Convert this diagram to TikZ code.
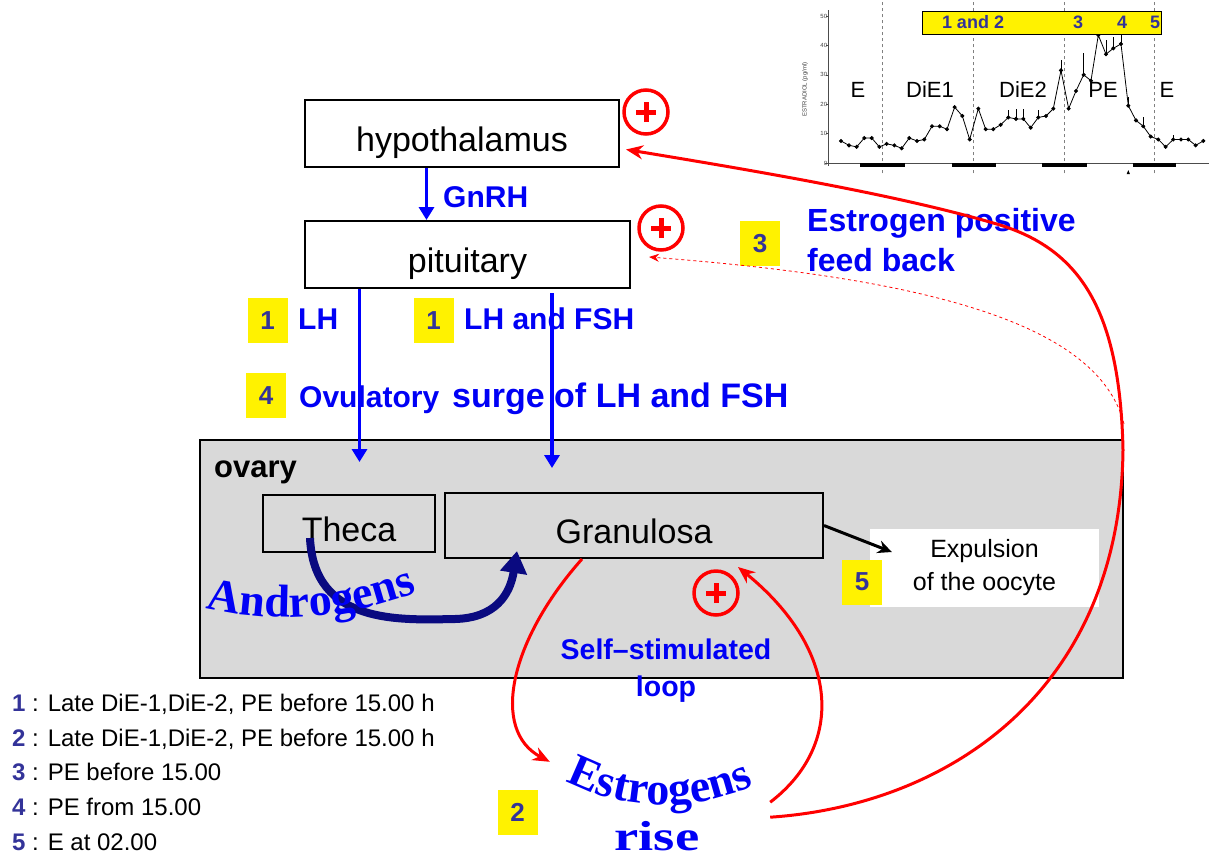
\documentclass[tikz,border=0pt]{standalone}
\usepackage{fontspec}
\setmainfont{Liberation Sans}
\newfontfamily\wordart{Liberation Serif}
\usetikzlibrary{arrows.meta, decorations.text}
\definecolor{hblue}{RGB}{0,0,245}
\definecolor{numblue}{RGB}{51,51,153}
\definecolor{navyarrow}{RGB}{10,10,128}
\definecolor{ovarygray}{RGB}{217,217,217}
\tikzstyle{organ}=[draw, line width=2pt, inner sep=0pt, text height=35pt, text depth=0pt, font=\fontsize{34}{40}\selectfont]
\tikzstyle{hormone}=[text=hblue, inner sep=0pt, font=\bfseries\fontsize{30}{40}\selectfont]
\tikzstyle{stepnum}=[fill=yellow, text=numblue, inner sep=0pt, minimum width=40pt, minimum height=45pt, font=\bfseries\fontsize{26}{26}\selectfont]
\tikzstyle{posmark}=[circle, draw=red, line width=3.5pt, minimum size=44pt, inner sep=0pt,
  path picture={\draw[red, line width=5pt] (path picture bounding box.center) +(-10pt,0) -- +(10pt,0) +(0,-10pt) -- +(0,10pt);}]
\tikzstyle{hormarrow}=[draw=blue, line width=3.5pt, -{Triangle[length=13pt, width=15pt]}]
\tikzstyle{feedback}=[draw=red, line width=3pt, -{Stealth[length=17pt, width=14pt]}]
\tikzstyle{plotlabel}=[font=\fontsize{22}{22}\selectfont]
\tikzstyle{barnum}=[text=numblue, font=\bfseries\fontsize{18}{18}\selectfont]
\newcommand{\organ}{\node[organ]}
\newcommand{\stepnum}{\node[stepnum]}
\newcommand{\legnum}[1]{{\color{numblue}\bfseries #1}}

\begin{document}
\begin{tikzpicture}[x=1pt, y=-1pt]
\useasboundingbox (0,0) rectangle (1209,857);

% estradiol curve
\begin{scope}[shift={(780,163)}, x=0.3333pt, y=2.94pt]
  \draw[gray!60!black, line width=0.6pt] (135,0) -- (1287,0);
  \draw[gray!60!black, line width=0.6pt] (145,-1) -- (145,52);
  \foreach \v in {0,10,...,50}
    \draw[gray!60!black, line width=0.5pt] (138,\v) -- (145,\v) node[left, inner sep=1pt, text=gray!50!black, font=\fontsize{6}{6}\selectfont] {\v};
  \node[rotate=90, text=gray!50!black, font=\fontsize{6}{6}\selectfont] (ylab) at (75,25) {ESTRADIOL (pg/ml)};
  \foreach \sx in {308,580,853,1122}
    \draw[gray, dashed, line width=0.5pt] (\sx,-3.5) -- (\sx,57);
  \foreach \a/\b in {240/375,515/648,787/920,1058/1188}
    \draw[line width=4pt] (\a,-0.8) -- (\b,-0.8);
  \fill (1040,-3.8) -- (1050,-3.8) -- (1045,-2.4) -- cycle;
  \foreach \ex/\lo/\hi in {685/15.5/18,708/15/18.5,730/15/18.5,775/15.5/18,843/31.5/35,911/30/37.5,978/37/42,1000/39/43,1023/40.5/43.5,1045/19.5/22.5,1090/12.5/15.5,1180/8/9.5}
    \draw[line width=0.5pt] (\ex,\lo) -- (\ex,\hi);
  \draw[line width=0.8pt, mark=*, mark size=1.6pt] plot coordinates {
    (183,7.5) (207,6) (230,5.5) (253,8.5) (275,8.5) (298,5.5) (320,6.5) (343,6) (365,5)
    (388,8.5) (411,7.5) (433,8) (456,12.5) (479,12.5) (501,11.5) (524,19) (547,16) (569,8)
    (595,18.5) (617,11.5) (640,11.5) (662,13) (685,15.5) (708,15) (730,15) (752,12) (775,15.5)
    (798,16) (820,18.5) (843,31.5) (866,18.5) (888,24.5) (911,30) (933,28) (955,43.5) (978,37)
    (1000,39) (1023,40.5) (1045,19.5) (1068,14.5) (1090,12.5) (1112,9) (1135,8) (1157,5.5)
    (1180,8) (1203,8) (1225,8) (1247,6) (1270,7.5)};
\end{scope}
\node[plotlabel] (e1) at (858,90) {E};
\node[plotlabel] (die1) at (930,90) {DiE1};
\node[plotlabel] (die2) at (1023,90) {DiE2};
\node[plotlabel] (pe) at (1103,90) {PE};
\node[plotlabel] (e2) at (1167,90) {E};
\node[draw, fill=yellow, line width=1pt, minimum width=239pt, minimum height=23pt] (timebar) at (1041.5,22.5) {};
\node[barnum] (t12) at (973,22.5) {1 and 2};
\node[barnum] (t3) at (1078,22.5) {3};
\node[barnum] (t4) at (1122,22.5) {4};
\node[barnum] (t5) at (1155,22.5) {5};

% ovary
\node[draw, fill=ovarygray, line width=2pt, minimum width=923pt, minimum height=238pt] (ovary) at (661.5,559) {};
\node[anchor=base west, inner sep=0pt, font=\bfseries\fontsize{31}{31}\selectfont] (ovarylabel) at (214,477) {ovary};

\organ[minimum width=314pt, minimum height=67pt] (hypo) at (462,133.5) {hypothalamus};
\organ[minimum width=325pt, minimum height=67pt] (pit) at (467.5,254.5) {pituitary};
\organ[minimum width=172pt, minimum height=57pt] (theca) at (349,523.5) {Theca};
\organ[minimum width=378pt, minimum height=65pt] (gran) at (634,525.5) {Granulosa};
\node[fill=white, minimum width=229pt, minimum height=78pt, align=center, font=\fontsize{25}{33}\selectfont] (expul) at (984.5,568) {Expulsion\\of the oocyte};

\node[posmark] (plushypo) at (646,112) {};
\node[posmark] (pluspit) at (661,228) {};
\node[posmark] (plusloop) at (716,593) {};

\stepnum (lhnum) at (267.5,320.5) {1};
\stepnum (fshnum) at (433.5,320.5) {1};
\stepnum (surgenum) at (266,395.5) {4};
\stepnum (fbnum) at (760,243.5) {3};
\stepnum (expnum) at (862,582) {5};
\stepnum (estnum) at (517.5,812) {2};

\node[hormone, anchor=west] (gnrh) at (443,197) {GnRH};
\node[hormone, anchor=west] (lh) at (298,319) {LH};
\node[hormone, anchor=west] (lhfsh) at (464,319) {LH and FSH};
\node[hormone, anchor=base west] (ovul) at (299,407) {Ovulatory};
\node[hormone, anchor=base west, font=\bfseries\fontsize{34}{40}\selectfont] (surge) at (452,407) {surge of LH and FSH};
\node[hormone, anchor=west, align=left, font=\bfseries\fontsize{32}{40}\selectfont] (posfb) at (807,240) {Estrogen positive\\feed back};
\node[hormone, align=center, font=\bfseries\fontsize{28.5}{37}\selectfont] (selfloop) at (666,671) {Self--stimulated\\loop};

\coordinate (lhend) at (359.5,462);
\coordinate (fshend) at (552,468);
\draw[hormarrow] ([xshift=-35.5pt]hypo.south) -- ([xshift=-41pt]pit.north);
\draw[hormarrow] ([xshift=-108pt]pit.south) -- (lhend);
\draw[hormarrow] ([xshift=84.5pt, yshift=-4pt]pit.south) -- (fshend);

% androgens
\draw[navyarrow, line width=8pt, -{Triangle[length=22pt, width=26pt]}] ([xshift=-39pt, yshift=-14.5pt]theca.center) .. controls (314,625) and (400,620) .. (455,619) .. controls (495,618) and (510,595) .. ([xshift=-117pt, yshift=8pt]gran.south);
\path[decorate, decoration={text along path, text align=center, text={|\wordart\bfseries\fontsize{46}{46}\selectfont\color{hblue}|Androgens}}] (205,608) .. controls (280,625) and (350,618) .. (418,592);

% estrogens
\node[minimum width=220pt, minimum height=40pt] (estro) at (660,782) {};
\path[decorate, decoration={text along path, text align=center, text={|\wordart\bfseries\fontsize{46}{46}\selectfont\color{hblue}|Estrogens}}] (548,770) .. controls (615,815) and (705,815) .. (772,776);
\node[anchor=base, xscale=1.3, text=hblue, font=\wordart\bfseries\fontsize{42}{42}\selectfont] (rise) at (657,850) {rise};

\draw[feedback] ([xshift=-52pt]gran.south) .. controls (510,640) and (490,730) .. (estro.north west);
\draw[feedback] (estro.south east) .. controls (845,745) and (840,650) .. ([xshift=104pt, yshift=-8pt]gran.south);
\draw[feedback] ([yshift=-15pt]estro.south east) .. controls (950,805) and (1120,690) .. (1123,450) .. controls (1120,310) and (1080,250) .. (1000,225) .. controls (900,195) and (750,170) .. ([xshift=6pt, yshift=-16pt]hypo.east);
\draw[red, dashed, line width=0.8pt, -{Stealth[length=10pt, width=8pt]}] ([yshift=15pt]ovary.north east) .. controls (1100,330) and (950,280) .. ([xshift=18pt, yshift=-2.5pt]pit.east);
\draw[line width=3pt, -{Stealth[length=14pt, width=13pt]}] (gran.east) -- ([xshift=22pt, yshift=16pt]expul.west);

% legend
\node[anchor=north west, align=left, inner sep=0pt, font=\fontsize{24}{34.6}\selectfont] (legend) at (12,694) {\legnum{1} : Late DiE-1,DiE-2, PE before 15.00 h\\
\legnum{2} : Late DiE-1,DiE-2, PE before 15.00 h\\
\legnum{3} : PE before 15.00\\
\legnum{4} : PE from 15.00\\
\legnum{5} : E at 02.00};
\end{tikzpicture}
\end{document}
